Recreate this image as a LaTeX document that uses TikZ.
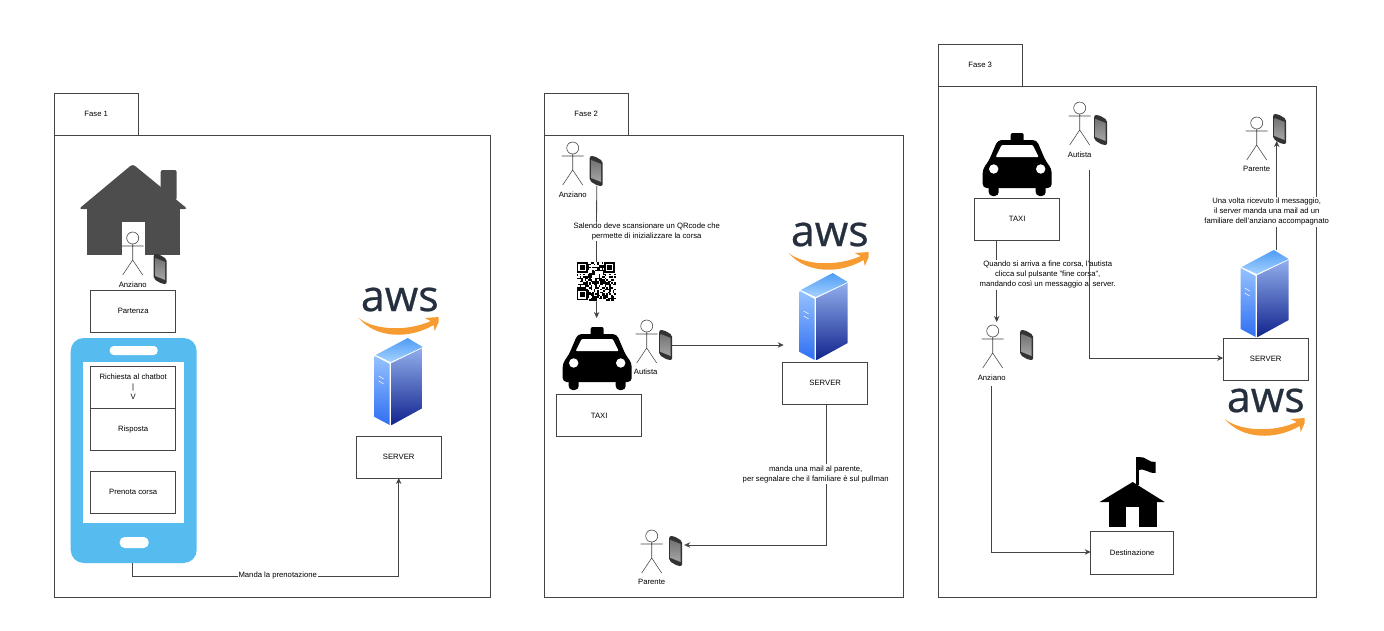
\documentclass[tikz,border=0pt]{standalone}
\usepackage{fontspec}
\usepackage{tikz}
\usetikzlibrary{arrows.meta}
\setmainfont{Liberation Sans}
\newfontfamily\awsfont[FakeBold=0.6]{Open Sans}

\definecolor{line}{HTML}{444444}
\definecolor{phoneblue}{HTML}{56BBEE}
\definecolor{housegrey}{HTML}{4D4D4D}
\definecolor{awsdark}{HTML}{252F3E}
\definecolor{awsorange}{HTML}{F79C32}
\definecolor{towtopa}{HTML}{4F9CF5}
\definecolor{towtopb}{HTML}{A5D2FF}
\definecolor{towlefta}{HTML}{96C2FF}
\definecolor{towleftb}{HTML}{2F6FF2}
\definecolor{towrighta}{HTML}{92AEEC}
\definecolor{towrightb}{HTML}{11248E}

\tikzset{
  txt/.style={font=\fontsize{7.7}{10}\selectfont,align=center,inner sep=0pt},
  lbl/.style={txt,fill=white,inner sep=1pt},
  frame/.style={draw=line,line width=0.8pt,anchor=north west,inner sep=0pt,outer sep=0pt},
  box/.style={frame,txt,anchor=center,minimum width=85pt,minimum height=42pt},
  conn/.style={draw=line,line width=0.8pt,-{Stealth[length=6pt,width=5.5pt]}},
  actorfig/.pic={
    \draw[line,line width=0.6pt] (0,0) circle (6);
    \draw[line,line width=0.6pt] (0,6) -- (0,22) (-11,8) -- (11,8) (-10,37) -- (0,22) -- (10,37);
  },
  phonefig/.pic={
    \node[minimum width=13pt,minimum height=30pt,inner sep=0pt,outer sep=0pt] (-box) at (0,0) {};
    \fill[black!80,rounded corners=2pt] (-6.5,-15) -- (-2,-15) -- (6.5,-10) -- (6.5,15) -- (2,15) -- (-6.5,10) -- cycle;
    \shade[top color=black!55,bottom color=black!35] (-5,-11) -- (5,-7) -- (5,11) -- (-5,7) -- cycle;
  },
  towerfig/.pic={
    \node[minimum width=48pt,minimum height=87pt,inner sep=0pt,outer sep=0pt,anchor=north west] (-box) at (0,0) {};
    \shade[top color=towtopa,bottom color=towtopb] (33,0) -- (48,9) -- (16,24) -- (1,17) -- cycle;
    \shade[top color=towlefta,bottom color=towleftb] (0,18) -- (15,26) -- (15,87) -- (0,79) -- cycle;
    \shade[top color=towrighta,bottom color=towrightb] (17,25) -- (48,10) -- (48,70) -- (17,87) -- cycle;
    \draw[white,line width=0.5pt] (4,38) -- (9,41) (4,43) -- (9,46);
  },
  awslogo/.pic={
    \node[anchor=base west,inner sep=0pt,text=awsdark,font=\awsfont\fontsize{43}{43}\selectfont] (-text) at (-1,26) {aws};
    \fill[awsorange] (-3,33) .. controls (12,45) and (45,47) .. (69,36) -- (63,33) -- (77,32) -- (77,37) -- (73,46) -- (72,40)
      .. controls (48,54) and (15,54) .. (-3,33) -- cycle;
  },
  taxifig/.pic={
    \fill[black,rounded corners=2pt] (28,0) rectangle (41,10);
    \fill[black,rounded corners=4pt] (0,55) -- (0,36) -- (6,28) -- (15,7) -- (54,7) -- (63,28) -- (69,36) -- (69,55) -- cycle;
    \fill[black,rounded corners=4pt] (6,50) rectangle (16,63);
    \fill[black,rounded corners=4pt] (53,50) rectangle (63,63);
    \fill[white,rounded corners=1pt] (13,24) -- (19,12) -- (50,12) -- (56,24) -- cycle;
    \fill[white] (11,36) circle (4.7);
    \fill[white] (58,36) circle (4.7);
  },
  qrfig/.pic={
    \pgfmathsetseed{7}
    \foreach \i in {0,...,24}{
      \foreach \j in {0,...,24}{
        \pgfmathrandominteger{\qrbit}{0}{1}
        \ifnum\qrbit=1
          \fill[black] (\i*1.56,\j*1.56) rectangle ++(1.6,1.6);
        \fi
      }
    }
    \foreach \a/\b in {0/0,27.3/0,0/27.3}{
      \fill[white] (\a,\b) rectangle ++(11.7,11.7);
      \fill[black] (\a,\b) rectangle ++(10.9,10.9);
      \fill[white] (\a+1.56,\b+1.56) rectangle ++(7.8,7.8);
      \fill[black] (\a+3.12,\b+3.12) rectangle ++(4.68,4.68);
    }
  }
}

\begin{document}
\begin{tikzpicture}[x=1pt,y=-1pt]
\useasboundingbox (0.3,0) rectangle (1384.3,630);

% fase 1
\node [frame,minimum width=84pt,minimum height=42pt] (tabA) at(55,93){};
\node [txt] (tabAtxt) at(96.5,114){Fase 1};
\node [frame,minimum width=436pt,minimum height=462pt] (panelA) at(55,135){};

\fill[housegrey,rounded corners=2pt] (161,195) -- (161,170) -- (177,170) -- (177,200) -- cycle;
\fill[housegrey,rounded corners=3pt] (79,209) -- (133,164) -- (188,209) -- cycle;
\fill[housegrey] (87,205) rectangle (180,255);
\fill[white] (122,222) rectangle (145,255);

\pic at (133,238) {actorfig};
\pic (phA) at (160.5,269) {phonefig};
\node [txt] (anzA) at(133,284.7){Anziano};
\node [box] (partenza) at(133.5,311){Partenza};

\node [fill=phoneblue,rounded corners=13pt,minimum width=126pt,minimum height=225pt,inner sep=0pt,outer sep=0pt] (phone) at(134,450.5){};
\node [fill=white,minimum width=101pt,minimum height=161pt,inner sep=0pt] (screen) at(133.5,442.5){};
\node [fill=white,rounded corners=4pt,minimum width=48pt,minimum height=9pt,inner sep=0pt] (pillA) at(134,350.5){};
\node [fill=white,rounded corners=5pt,minimum width=29pt,minimum height=11pt,inner sep=0pt] (pillB) at(134.5,542.5){};
\node [box] (richiesta) at(133.5,387){Richiesta al chatbot\\|\\V};
\node [box] (risposta) at(133.5,429){Risposta};
\node [box] (prenota) at(133.5,492){Prenota corsa};

\pic (awsA) at (362,285) {awslogo};
\pic (towA) at (375,338) {towerfig};
\node [box] (srvA) at(399,457){SERVER};

\coordinate (turnA) at(133,576);
\draw[conn] (phone.south -| turnA) -- (turnA) -| (srvA.south);
\node [lbl] (lblA) at(278,575.5){Manda la prenotazione};

% fase 2
\node [frame,minimum width=84pt,minimum height=42pt] (tabB) at(545,93){};
\node [txt] (tabBtxt) at(586.5,114){Fase 2};
\node [frame,minimum width=359pt,minimum height=462pt] (panelB) at(545,135){};

\pic at (573,148) {actorfig};
\pic (phB) at (596.5,171) {phonefig};
\node [txt] (anzB) at(573,194.7){Anziano};

\pic (qr) at (577,262) {qrfig};
\node [minimum size=39pt,inner sep=0pt,anchor=north west] (qrbox) at(577,262){};

\pic (taxiB) at (563,327) {taxifig};
\coordinate (topB) at(597,318);
\node [box] (taxiBbox) at(599.5,415.5){TAXI};

\pic at (647,326) {actorfig};
\pic (phC) at (666,345) {phonefig};
\node [txt] (autB) at(646,371.7){Autista};

\pic (awsB) at (792,220) {awslogo};
\pic (towB) at (800,273) {towerfig};
\node [box] (srvB) at(825.5,383){SERVER};

\pic at (652,536) {actorfig};
\pic (phD) at (676,551) {phonefig};
\node [txt] (parB) at(652,581.7){Parente};

\draw[draw=line,line width=0.8pt] ([xshift=0.5pt]phB-box.south) -- (qrbox.north);
\draw[conn] (qrbox.south) -- (topB);
\node [lbl] (lblB) at(647,231.5){Salendo deve scansionare un QRcode che\\permette di inizializzare la corsa};

\coordinate (towBin) at(784,345);
\draw[conn] (phC-box.east) -- (towBin);

\coordinate (turnB) at(827,545);
\draw[conn] (srvB.south -| turnB) -- (turnB) -- ([xshift=2pt]turnB -| phD-box.east);
\node [lbl] (lblC) at(816,474){manda una mail al parente,\\per segnalare che il familiare è sul pullman};

% fase 3
\node [frame,minimum width=84pt,minimum height=42pt] (tabC) at(939,44){};
\node [txt] (tabCtxt) at(980.5,65){Fase 3};
\node [frame,minimum width=378pt,minimum height=511pt] (panelC) at(939,86){};

\pic (taxiC) at (983,133) {taxifig};
\node [box] (taxiCbox) at(1017.5,219){TAXI};

\pic at (1080,108) {actorfig};
\pic (phE) at (1101,130) {phonefig};
\node [txt] (autC) at(1080,154.7){Autista};

\pic at (993,331) {actorfig};
\pic (phF) at (1027,345) {phonefig};
\node [txt] (anzC) at(992,377.7){Anziano};

\pic at (1257,123) {actorfig};
\pic (phG) at (1280,129) {phonefig};
\node [txt] (parC) at(1257,168.7){Parente};

\pic (towC) at (1241,250) {towerfig};
\node [box] (srvC) at(1266,359){SERVER};
\pic (awsC) at (1228,386) {awslogo};

\fill[black] (1136,457) rectangle (1139,485);
\fill[black] (1139,457) .. controls (1146,456) and (1149,463) .. (1156,462) -- (1156,473) .. controls (1149,474) and (1146,468) .. (1139,470) -- cycle;
\fill[black] (1100,502) -- (1133,482) -- (1165,502) -- cycle;
\fill[black] (1109,500) rectangle (1157,527);
\fill[white] (1126,507) rectangle (1139,527);
\node [box,minimum width=83pt,minimum height=43pt] (dest) at(1132.5,552.5){Destinazione};

\coordinate (topF) at(997,322);
\draw[conn] (taxiCbox.south -| topF) -- (topF);
\node [lbl] (lblD) at(1048,275){Quando si arriva a fine corsa, l'autista\\clicca sul pulsante "fine corsa",\\mandando così un messaggio al server.};

\coordinate (fromE) at(1090,170);
\coordinate (turnE) at(1090,358);
\draw[conn] (fromE) -- (turnE) -- (turnE -| srvC.west);

\coordinate (fromF) at(992,386);
\coordinate (turnF) at(992,552);
\draw[conn] (fromF) -- (turnF) -- (turnF -| dest.west);

\draw[conn] ([xshift=12pt]towC-box.north) -- ([xshift=-3pt,yshift=3pt]phG-box.south);
\node [lbl] (lblE) at(1267,212){Una volta ricevuto il messaggio,\\il server manda una mail ad un\\familiare dell'anziano accompagnato};
\end{tikzpicture}
\end{document}
